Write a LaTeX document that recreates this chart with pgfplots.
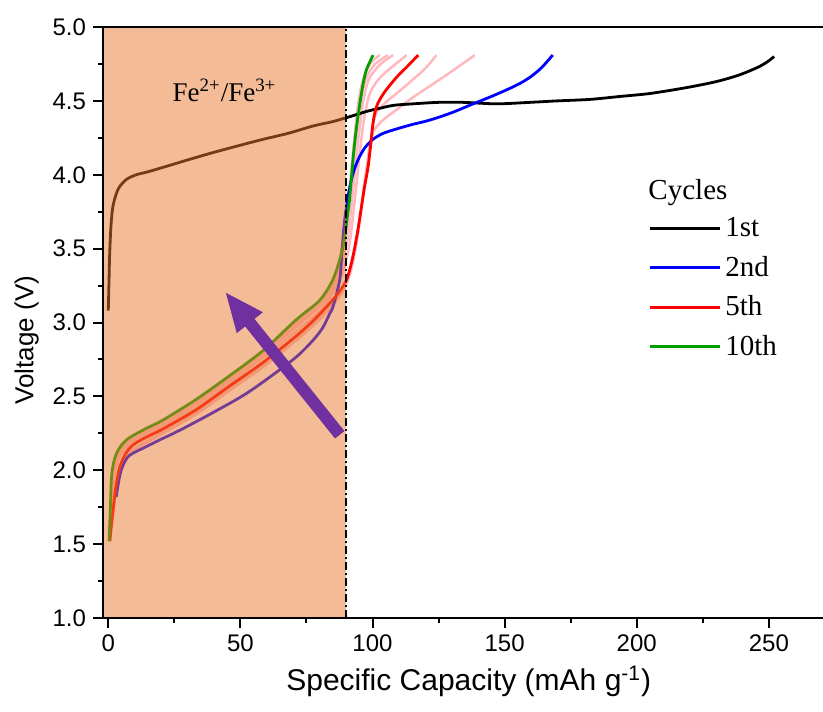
\documentclass[border=0pt]{standalone}
\usepackage{fontspec}
\setmainfont{Liberation Sans}
\newfontfamily\seriffont{Liberation Serif}
\usepackage{pgfplots}
\pgfplotsset{compat=1.18}
\usetikzlibrary{arrows.meta}
\definecolor{feshade}{RGB}{233,121,45}
\definecolor{arrowpurple}{RGB}{112,48,160}
\definecolor{cgreen}{RGB}{0,160,0}
\definecolor{cblue}{RGB}{0,0,255}
\definecolor{cred}{RGB}{255,0,0}
\definecolor{cpink}{RGB}{255,185,190}
\begin{document}
\begin{tikzpicture}
\begin{axis}[
  scale only axis, width=360pt, height=295.5pt,
  xmin=-2, xmax=270.5, ymin=1, ymax=5,
  axis x line=box, axis y line=left,
  x axis line style={-}, y axis line style={-},
  axis line style={line width=1pt},
  axis on top,
  xtick={0,50,...,250}, ytick={1,1.5,...,5},
  minor x tick num=1, minor y tick num=1,
  xtick pos=left, ytick pos=left,
  tick align=outside,
  major tick length=5pt, minor tick length=2.5pt,
  every tick/.style={line width=1pt, black},
  /pgf/number format/assume math mode=true,
  tick label style={font=\fontsize{12}{14}\selectfont},
  yticklabel style={/pgf/number format/fixed, /pgf/number format/fixed zerofill, /pgf/number format/precision=1},
  xticklabel style={/pgf/number format/fixed},
  xlabel={Specific Capacity (mAh g\textsuperscript{-1})},
  ylabel={Voltage (V)},
  xlabel style={font=\fontsize{15}{17}\selectfont, at={(ticklabel cs:0.508)}},
  ylabel style={font=\fontsize{13}{15}\selectfont, at={(ticklabel cs:0.47)}},
  legend style={draw=none, fill=none, at={(axis cs:204.3,3.74)}, anchor=north west, inner sep=0pt,
    font=\seriffont\fontsize{14.5}{17}\selectfont, row sep=4.2pt},
  legend cell align=left,
  legend image code/.code={\draw[#1, line width=1.4pt] (0pt,0pt) -- (35pt,0pt);},
  every axis plot/.append style={smooth, tension=0.5},
]
% pink intermediate cycles (3rd, 4th, 6th-9th)
\addplot[cpink, line width=1.25pt, forget plot] coordinates {(0.8,1.55)(1.8,1.72)(3,1.86)(4.5,2.0)(7,2.09)(10,2.14)(20.7,2.25)(33.3,2.38)(45.9,2.54)(58.6,2.7)(71.2,2.88)(80,3.02)(86,3.14)(90,3.25)(92.5,3.4)(94.5,3.6)(96,3.8)(97.5,4.0)(99,4.18)(100.2,4.29)(104,4.37)(109.1,4.44)(115,4.52)(121.7,4.6)(130,4.7)(138.7,4.81)};
\addplot[cpink, line width=1.25pt, forget plot] coordinates {(0.7,1.53)(1.7,1.71)(3,1.87)(4.4,2.01)(7,2.1)(10,2.15)(20.7,2.26)(33.3,2.39)(45.9,2.55)(58.6,2.71)(71.2,2.89)(80,3.04)(86,3.16)(90,3.27)(92.5,3.42)(94.5,3.62)(96,3.82)(97.5,4.02)(99,4.2)(100.3,4.35)(101.5,4.42)(105,4.49)(109.1,4.55)(115,4.64)(120,4.72)(124.2,4.81)};
\addplot[cpink, line width=1.25pt, forget plot] coordinates {(0.5,1.52)(1,1.65)(1.5,1.82)(2.5,1.98)(4,2.08)(7,2.15)(10,2.19)(20.7,2.3)(33.3,2.43)(45.9,2.59)(58.6,2.76)(71.2,2.94)(80,3.08)(85,3.2)(88.5,3.33)(91,3.5)(92.5,3.7)(94,3.95)(95.5,4.2)(97,4.4)(99,4.55)(102,4.64)(106,4.71)(109.5,4.76)(112.9,4.81)};
\addplot[cpink, line width=1.25pt, forget plot] coordinates {(0.5,1.52)(1,1.68)(1.4,1.85)(2.3,2.0)(3.8,2.09)(7,2.16)(10,2.2)(20.7,2.31)(33.3,2.45)(45.9,2.61)(58.6,2.78)(71.2,2.97)(80,3.11)(85,3.23)(88,3.37)(90.5,3.56)(92,3.78)(93.5,4.05)(95,4.3)(96.5,4.5)(98.5,4.64)(101.5,4.72)(104.5,4.77)(107.8,4.81)};
\addplot[cpink, line width=1.25pt, forget plot] coordinates {(0.4,1.52)(0.9,1.7)(1.3,1.88)(2.2,2.02)(3.5,2.1)(7,2.18)(10,2.21)(20.7,2.32)(33.3,2.46)(45.9,2.62)(58.6,2.79)(71.2,2.99)(80,3.13)(85,3.26)(87.8,3.42)(90,3.62)(91.5,3.85)(93,4.12)(94.5,4.38)(96,4.55)(98,4.67)(101,4.75)(105.9,4.81)};
\addplot[cpink, line width=1.25pt, forget plot] coordinates {(0.4,1.52)(0.9,1.72)(1.2,1.9)(2.1,2.04)(3.2,2.1)(7,2.19)(10,2.22)(20.7,2.33)(33.3,2.47)(45.9,2.63)(58.6,2.8)(71.2,3.0)(80,3.14)(85,3.28)(87.8,3.45)(89.8,3.65)(91.2,3.88)(92.6,4.15)(94,4.4)(95.5,4.58)(97.5,4.7)(100,4.77)(102.8,4.81)};
% 1st
\addplot[black, line width=1.4pt] coordinates {(0,3.08)(0.3,3.3)(0.5,3.45)(1,3.65)(1.7,3.78)(3,3.87)(4.3,3.92)(7,3.97)(10.6,4.0)(15,4.02)(20.7,4.05)(30,4.1)(39.6,4.15)(50,4.2)(58.6,4.24)(68,4.28)(77.5,4.33)(85,4.36)(90.8,4.39)(94.5,4.41)(98,4.43)(102.8,4.45)(108,4.47)(115.4,4.48)(125,4.49)(134.3,4.49)(147,4.48)(159.6,4.49)(170,4.5)(182.3,4.51)(193.7,4.53)(205,4.55)(218.9,4.59)(230,4.63)(237.9,4.67)(243,4.705)(246.7,4.735)(249.5,4.765)(252,4.8)};
\addlegendentry{1st}
% 2nd
\addplot[cblue, line width=1.4pt] coordinates {(3,1.82)(4.2,1.95)(5.5,2.03)(8,2.1)(14.4,2.16)(20,2.21)(27,2.27)(39.6,2.39)(52.3,2.52)(64.9,2.68)(72,2.78)(77.5,2.88)(81,2.96)(83.8,3.06)(85.1,3.11)(87.6,3.29)(88.5,3.5)(89.5,3.7)(91,3.88)(92.5,4.0)(94.5,4.1)(97,4.18)(100.2,4.24)(104,4.28)(109.1,4.31)(115,4.34)(121.7,4.37)(130,4.42)(138.1,4.48)(145,4.53)(150.8,4.575)(156,4.62)(160,4.665)(164,4.725)(168.2,4.81)};
\addlegendentry{2nd}
% 5th
\addplot[cred, line width=1.4pt] coordinates {(0.6,1.52)(1.0,1.6)(1.7,1.71)(2.8,1.88)(4.3,2.02)(6.5,2.11)(9.3,2.17)(14,2.22)(20.7,2.28)(33.3,2.41)(45.9,2.57)(58.6,2.73)(71.2,2.91)(78,3.02)(83.8,3.13)(87.5,3.21)(90.2,3.29)(92,3.4)(93.3,3.51)(94.6,3.64)(95.8,3.78)(97,3.92)(98.3,4.05)(99.3,4.2)(100.2,4.35)(101.3,4.45)(102.8,4.51)(105,4.57)(109.1,4.66)(113,4.73)(117.3,4.81)};
\addlegendentry{5th}
% 10th
\addplot[cgreen, line width=1.4pt] coordinates {(0.3,1.52)(0.8,1.75)(1.2,1.95)(2,2.05)(3,2.11)(5,2.17)(8,2.22)(14,2.28)(20.7,2.34)(33.3,2.48)(45.9,2.64)(58.6,2.81)(71.2,3.02)(80,3.15)(85,3.29)(88,3.45)(89.5,3.58)(90.5,3.72)(91.4,3.85)(92.7,4.12)(93.8,4.3)(95.2,4.48)(96.5,4.62)(97.7,4.71)(100.2,4.81)};
\addlegendentry{10th}
% shaded Fe2+/Fe3+ region
\fill[feshade, opacity=0.5] (axis cs:-2,1) rectangle (axis cs:90,5);
\draw[black, line width=0.7pt, dash pattern=on 4pt off 1.5pt on 1pt off 1.5pt] (axis cs:90,1) -- (axis cs:90,5);
\node[font=\seriffont\fontsize{13.5}{15}\selectfont] at (axis cs:44,4.57) {Fe\textsuperscript{2+}/Fe\textsuperscript{3+}};
\node[font=\seriffont\fontsize{14.5}{17}\selectfont, anchor=west, inner sep=0pt] at (axis cs:204.3,3.88) {Cycles};
\draw[arrowpurple, line width=6pt, -{Triangle[width=15pt,length=20pt]}] (axis cs:87.6,2.24) -- (axis cs:44.1,3.21);
\coordinate (bl) at (rel axis cs:0,0);
\coordinate (tr) at (rel axis cs:1,1);
\end{axis}
\pgfresetboundingbox
\path[use as bounding box] ([xshift=-51.5pt,yshift=-46.5pt]bl) rectangle ([yshift=13.5pt]tr);
\end{tikzpicture}
\end{document}
